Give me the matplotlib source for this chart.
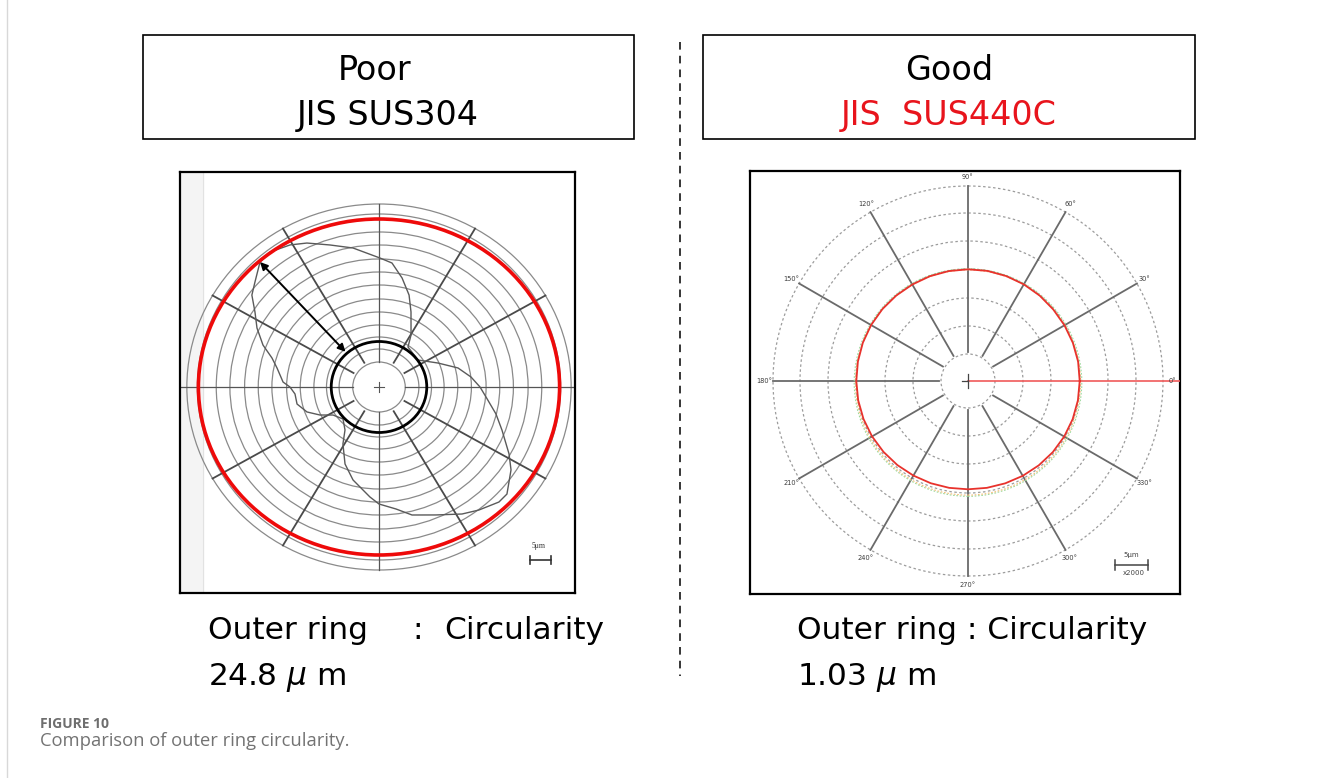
import numpy as np
import matplotlib
matplotlib.use("Agg")
import matplotlib.pyplot as plt
from matplotlib.patches import Rectangle, Ellipse, Circle

W, H = 1333, 778

# ---------------- data ----------------
# Left (SUS304) measured roundness profile: angle (deg, CCW from +x) and radius (chart units)
LEFT_ANGLES_DEG = [132.2, 127.6, 120.8, 115.5, 108.2, 100.1, 89.6, 84.3, 78.6, 72.7,
                   67.9, 59.6, 55.4, 36.0, 23.1, 14.2, 6.5, 0.0, 354.4, 346.4,
                   339.8, 331.6, 326.6, 318.7, 314.8, 307.7, 301.9, 293.0, 283.8, 277.6,
                   270.0, 265.5, 255.1, 247.2, 238.9, 233.0, 223.0, 212.6, 206.5, 200.0,
                   192.3, 185.0, 180.0, 176.9, 168.9, 164.1, 159.2, 153.1, 147.6, 142.8,
                   138.4]
LEFT_RADII = [168.7, 170.3, 165.4, 159.5, 149.5, 141.2, 129.0, 124.6, 111.2, 96.3,
              81.0, 60.3, 48.6, 45.9, 61.1, 77.6, 88.2, 96.2, 102.4, 114.6,
              124.8, 140.8, 150.6, 162.2, 162.1, 155.5, 149.6, 139.0, 131.8, 123.1,
              117.0, 110.3, 96.2, 83.5, 66.5, 53.8, 46.9, 52.0, 62.8, 73.0,
              79.9, 80.3, 84.8, 91.5, 99.0, 106.0, 118.2, 130.3, 139.9, 152.0,
              158.0]
LEFT_GRID_RADII = [25, 38, 50, 62, 75, 88, 102, 115, 128, 142, 155, 173, 183]
LEFT_OUTER_ELLIPSE = (172, 168)   # red circumscribed circle (rx, ry)
LEFT_INNER_RADIUS = 45.5           # black inscribed circle

SPOKE_ANGLES = [0, 30, 60, 90, 120, 150, 180, 210, 240, 270, 300, 330]

# Right (SUS440C) measured profile
RIGHT_ANGLES_DEG = list(range(0, 360, 10))
RIGHT_RADII = [111.7, 111.8, 111.6, 111.4, 111.3, 111.5, 111.6, 111.7, 111.8, 111.7,
               111.6, 111.5, 111.4, 111.6, 111.8, 111.9, 111.9, 111.8, 111.7, 111.5,
               111.2, 110.8, 110.3, 109.8, 109.2, 108.8, 108.5, 108.3, 108.5, 108.9,
               109.5, 110.1, 110.7, 111.1, 111.4, 111.6]
RIGHT_GRID_RADII = [27, 55, 83, 112, 140, 168, 195]
RIGHT_ANGLE_LABELS = ["0°", "30°", "60°", "90°", "120°", "150°",
                      "180°", "210°", "240°", "270°", "300°", "330°"]

TITLE_LEFT = ["Poor", "JIS SUS304"]
TITLE_RIGHT = ["Good", "JIS  SUS440C"]
CIRC_LEFT = "24.8"
CIRC_RIGHT = "1.03"

# ---------------- figure ----------------
plt.rcParams['font.family'] = ['DejaVu Sans']
fig = plt.figure(figsize=(W / 100, H / 100), dpi=100)
fig.patch.set_facecolor('white')

ax0 = fig.add_axes([0, 0, 1, 1])
ax0.set_xlim(0, W)
ax0.set_ylim(H, 0)
ax0.axis('off')

# page border (light)
ax0.plot([7, 7], [0, H], color='#d8d8d8', lw=1.0)

# title boxes
ax0.add_patch(Rectangle((143, 35), 491, 104, fill=False, ec='black', lw=1.2))
ax0.add_patch(Rectangle((703, 35), 492, 104, fill=False, ec='black', lw=1.2))
tsize = 24
ax0.text(375, 80, TITLE_LEFT[0], ha='center', va='baseline', fontsize=tsize, color='black')
ax0.text(388, 125, TITLE_LEFT[1], ha='center', va='baseline', fontsize=tsize, color='black')
ax0.text(949, 80, TITLE_RIGHT[0], ha='center', va='baseline', fontsize=tsize, color='black')
ax0.text(949, 125, TITLE_RIGHT[1], ha='center', va='baseline', fontsize=tsize, color='#e8141c')

# separator
ax0.plot([680, 680], [42, 676], color='black', lw=1.1, ls=(0, (5, 4)))

# bottom labels
lsize = 22.5
ax0.text(208, 639, "Outer ring", ha='left', va='baseline', fontsize=lsize)
ax0.text(412, 639, ":", ha='left', va='baseline', fontsize=lsize)
ax0.text(444, 639, "Circularity", ha='left', va='baseline', fontsize=lsize)
ax0.text(208, 685, CIRC_LEFT + r" $\mu$ m", ha='left', va='baseline', fontsize=lsize)
ax0.text(797, 639, "Outer ring : Circularity", ha='left', va='baseline', fontsize=lsize)
ax0.text(797, 685, CIRC_RIGHT + r" $\mu$ m", ha='left', va='baseline', fontsize=lsize)

# caption
ax0.text(40, 728, "FIGURE 10", ha='left', va='baseline', fontsize=10,
         family='Open Sans', fontweight='bold', color='#6e6e6e')
ax0.text(40, 746, "Comparison of outer ring circularity.", ha='left', va='baseline',
         fontsize=13.2, family='Open Sans', color='#737373')


def px_axes(x0, y0, x1, y1):
    return fig.add_axes([x0 / W, 1 - y1 / H, (x1 - x0) / W, (y1 - y0) / H])


def pol(a_deg, r):
    a = np.deg2rad(np.asarray(a_deg, dtype=float))
    r = np.asarray(r, dtype=float)
    return r * np.cos(a), r * np.sin(a)


# ---------------- left chart ----------------
sx = 1.05
axL = px_axes(179.5, 171.5, 575, 593)
cxL, cyL = 379, 387
axL.set_xlim((179.5 - cxL) / sx, (575 - cxL) / sx)
axL.set_ylim(cyL - 593, cyL - 171.5)
axL.set_xticks([]); axL.set_yticks([])
for s in axL.spines.values():
    s.set_linewidth(1.6); s.set_color('black')
# faint strip at left
axL.axvspan((179.5 - cxL) / sx, (203 - cxL) / sx, color='#f4f4f4', zorder=0)
axL.axvline((203 - cxL) / sx, color='#e2e2e2', lw=0.8, zorder=0)

for r in LEFT_GRID_RADII:
    axL.add_patch(Circle((0, 0), r, fill=False, ec='#8a8a8a', lw=0.9, zorder=1))
rmin, rmax = LEFT_GRID_RADII[0], LEFT_GRID_RADII[-1]
xl0, xl1 = axL.get_xlim()
for a in SPOKE_ANGLES:
    if a % 90 == 0:
        if a == 0:
            axL.plot([rmin, xl1], [0, 0], color='#555555', lw=0.9, zorder=2)
        elif a == 180:
            axL.plot([xl0, -rmin], [0, 0], color='#555555', lw=0.9, zorder=2)
        else:
            x, y = pol([a, a], [rmin, rmax])
            axL.plot(x, y, color='#555555', lw=0.9, zorder=2)
    else:
        x, y = pol([a, a], [rmin + 3, rmax])
        axL.plot(x, y, color='#4a4a4a', lw=1.3, zorder=2)
axL.plot([-5, 5], [0, 0], color='#555555', lw=0.8)
axL.plot([0, 0], [-5, 5], color='#555555', lw=0.8)

px, py = pol(LEFT_ANGLES_DEG + LEFT_ANGLES_DEG[:1], LEFT_RADII + LEFT_RADII[:1])
axL.plot(px, py, color='#5a5a5a', lw=1.0, zorder=3)

axL.add_patch(Ellipse((0, 0), 2 * LEFT_OUTER_ELLIPSE[0], 2 * LEFT_OUTER_ELLIPSE[1],
                      fill=False, ec='#ee0a0a', lw=2.6, zorder=4))
axL.add_patch(Circle((0, 0), LEFT_INNER_RADIUS, fill=False, ec='black', lw=2.0, zorder=4))

i0 = 0
ax_s, ay_s = pol(LEFT_ANGLES_DEG[i0], LEFT_RADII[i0])
ax_e, ay_e = pol(LEFT_ANGLES_DEG[i0], LEFT_INNER_RADIUS + 2)
axL.annotate('', xy=(float(ax_e), float(ay_e)), xytext=(float(ax_s), float(ay_s)),
             arrowprops=dict(arrowstyle='<|-|>', color='black', lw=1.4,
                             mutation_scale=11, shrinkA=0, shrinkB=0), zorder=5)

# scale bar (5 um)
by = -173
bx0, bx1 = (530 - cxL) / sx, (551 - cxL) / sx
axL.plot([bx0, bx1], [by, by], color='#333333', lw=1.2)
axL.plot([bx0, bx0], [by - 4, by + 4], color='#333333', lw=1.2)
axL.plot([bx1, bx1], [by - 4, by + 4], color='#333333', lw=1.2)
axL.text((bx0 + bx1) / 2 - 2, by + 10, "5μm", ha='center', va='bottom', fontsize=5.5,
         family='Liberation Serif', color='#333333')

# ---------------- right chart ----------------
axR = px_axes(750, 171, 1180, 594)
cxR, cyR = 968, 381
axR.set_xlim(750 - cxR, 1180 - cxR)
axR.set_ylim(cyR - 594, cyR - 171)
axR.set_xticks([]); axR.set_yticks([])
for s in axR.spines.values():
    s.set_linewidth(1.6); s.set_color('black')

for r in RIGHT_GRID_RADII:
    axR.add_patch(Circle((0, 0), r, fill=False, ec='#9c9c9c', lw=0.9,
                         ls=(0, (2, 2)), zorder=1))
r0, r1 = RIGHT_GRID_RADII[0] + 2, RIGHT_GRID_RADII[-1]
for a in SPOKE_ANGLES:
    if a == 0:
        continue
    x, y = pol([a, a], [r0, r1])
    axR.plot(x, y, color='#6a6a6a', lw=1.3, zorder=2)
axR.plot([0, axR.get_xlim()[1]], [0, 0], color='#f05a5a', lw=1.2, zorder=3)
axR.plot([-6, 0], [0, 0], color='#444444', lw=0.9, zorder=3)
axR.plot([0, 0], [-7, 7], color='#444444', lw=0.9, zorder=3)

axR.add_patch(Circle((0, -1.5), 113.8, fill=False, ec='#9bd99b', lw=0.8, ls=(0, (1.5, 1.5)), zorder=2))
axR.add_patch(Circle((0, -1.5), 112.6, fill=False, ec='#f5c07a', lw=0.8, ls=(0, (1.5, 1.5)), zorder=2))
qx, qy = pol(RIGHT_ANGLES_DEG + RIGHT_ANGLES_DEG[:1], RIGHT_RADII + RIGHT_RADII[:1])
axR.plot(qx, qy, color='#e8322c', lw=1.3, zorder=4)

for a, lab in zip(SPOKE_ANGLES, RIGHT_ANGLE_LABELS):
    x, y = pol(a, 204)
    axR.text(float(x), float(y), lab, ha='center', va='center', fontsize=4.8, color='#3c3c3c')

by = -184
bx0, bx1 = 1115 - cxR, 1148 - cxR
axR.plot([bx0, bx1], [by, by], color='#444444', lw=1.1)
axR.plot([bx0, bx0], [by - 5, by + 5], color='#444444', lw=1.1)
axR.plot([bx1, bx1], [by - 5, by + 5], color='#444444', lw=1.1)
axR.text((bx0 + bx1) / 2, by + 7, "5μm", ha='center', va='bottom', fontsize=5, color='#444444')
axR.text((bx0 + bx1) / 2 + 2, by - 5, "x2000", ha='center', va='top', fontsize=5, color='#444444')

fig.savefig("out.png", dpi=100, facecolor='white')
